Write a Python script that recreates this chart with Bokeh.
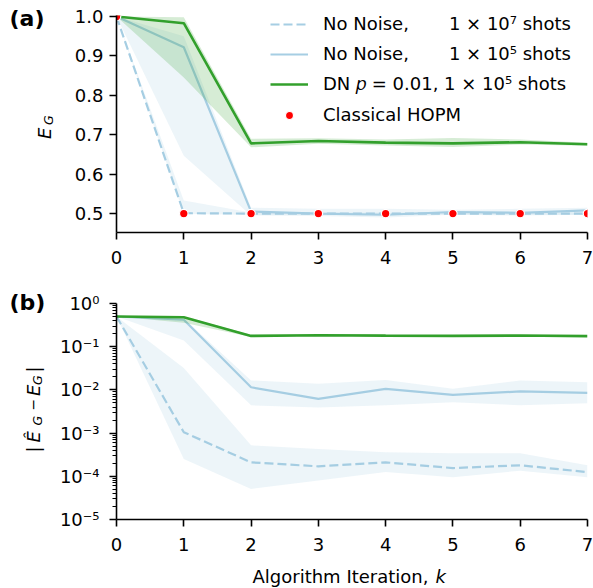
import math
from bokeh.plotting import figure
from bokeh.layouts import column, row
from bokeh.core.properties import value
from bokeh.models import (FixedTicker, NumeralTickFormatter, Legend,
                          LegendItem, Range1d)
from bokeh.embed import file_html
from bokeh.resources import INLINE

# ---------------- data ----------------
k = [0, 1, 2, 3, 4, 5, 6, 7]

# panel (a): E_G
eg_1e7 = [1.0, 0.501, 0.500, 0.500, 0.500, 0.500, 0.500, 0.500]
eg_1e7_lo = [1.0, 0.499, 0.497, 0.497, 0.496, 0.497, 0.497, 0.497]
eg_1e7_hi = [1.0, 0.533, 0.503, 0.503, 0.503, 0.503, 0.503, 0.503]

eg_1e5 = [1.0, 0.922, 0.505, 0.500, 0.497, 0.504, 0.502, 0.508]
eg_1e5_lo = [1.0, 0.647, 0.495, 0.494, 0.490, 0.497, 0.495, 0.497]
eg_1e5_hi = [1.0, 0.950, 0.515, 0.512, 0.512, 0.510, 0.512, 0.515]

eg_dn = [1.0, 0.983, 0.678, 0.684, 0.680, 0.678, 0.681, 0.676]
eg_dn_lo = [1.0, 0.845, 0.668, 0.677, 0.673, 0.669, 0.675, 0.672]
eg_dn_hi = [1.0, 0.998, 0.690, 0.691, 0.688, 0.692, 0.688, 0.680]

hopm = [1.0, 0.5, 0.5, 0.5, 0.5, 0.5, 0.5, 0.5]

# panel (b): |E_hat - E_G|
err_1e7 = [0.5, 1.05e-3, 2.1e-4, 1.7e-4, 2.1e-4, 1.55e-4, 1.8e-4, 1.25e-4]
err_1e7_lo = [0.5, 2.5e-4, 5.1e-5, 8.0e-5, 1.25e-4, 9.5e-5, 1.35e-4, 9.5e-5]
err_1e7_hi = [0.5, 3.2e-2, 5.2e-4, 4.3e-4, 3.6e-4, 3.4e-4, 3.4e-4, 1.8e-4]

err_1e5 = [0.5, 0.42, 0.0115, 0.0062, 0.0106, 0.0077, 0.0092, 0.0085]
err_1e5_lo = [0.5, 0.14, 0.0044, 0.0039, 0.0044, 0.0052, 0.0044, 0.0049]
err_1e5_hi = [0.5, 0.45, 0.0166, 0.0138, 0.0170, 0.0106, 0.0166, 0.0150]

err_dn = [0.5, 0.48, 0.178, 0.184, 0.180, 0.178, 0.181, 0.176]
err_dn_lo = [0.5, 0.36, 0.168, 0.178, 0.174, 0.170, 0.175, 0.172]
err_dn_hi = [0.5, 0.50, 0.190, 0.190, 0.186, 0.186, 0.186, 0.180]

NB = "\u00a0"
legend_labels = [
    "No Noise," + NB * 7 + "1 × 10⁷ shots",
    "No Noise," + NB * 7 + "1 × 10⁵ shots",
    "DN 𝑝 = 0.01, 1 × 10⁵ shots",
    "Classical HOPM",
]
x_ticks = [0, 1, 2, 3, 4, 5, 6, 7]
ya_ticks = [0.5, 0.6, 0.7, 0.8, 0.9, 1.0]
yb_ticks = [1e-5, 1e-4, 1e-3, 1e-2, 1e-1, 1.0]
yb_tick_labels = ["10⁻⁵", "10⁻⁴", "10⁻³", "10⁻²", "10⁻¹", "10⁰"]
xlabel_main = "Algorithm Iteration,"
xlabel_var = "k"

# ---------------- style ----------------
BLUE = "#a6cee3"
GREEN = "#33a02c"
RED = "#ff0000"
FONT = "DejaVu Sans"
FS = "18px"
TOT_W, TOT_H = 593, 588
GUT = 56              # width of the left text strip
PW = TOT_W - GUT      # width of a panel figure
HA, HB = 280, 276
HX = TOT_H - HA - HB  # x-label strip
BL = 0.3              # baseline shift of text glyphs, in em


def style(p):
    for ax in (p.xaxis[0], p.yaxis[0]):
        ax.axis_line_width = 1.6
        ax.axis_line_color = "black"
        ax.major_tick_line_width = 1.6
        ax.major_tick_line_color = "black"
        ax.major_tick_out = 7
        ax.major_tick_in = 0
        ax.minor_tick_line_color = None
        ax.major_label_text_font = FONT
        ax.major_label_text_font_size = FS
        ax.major_label_text_color = "black"
        ax.major_label_standoff = 6
    p.xaxis[0].major_label_standoff = 11
    p.xaxis[0].ticker = FixedTicker(ticks=x_ticks)
    p.xgrid.visible = False
    p.ygrid.visible = False
    p.outline_line_color = None
    p.background_fill_color = "white"
    p.border_fill_color = "white"


def strip(w, h, xr, yr, bl=0, br=0):
    g = figure(width=w, height=h, x_range=xr, y_range=yr,
               output_backend="svg", toolbar_location=None,
               x_axis_location=None, y_axis_location=None,
               min_border_left=bl, min_border_right=br, min_border_top=0,
               min_border_bottom=0)
    g.grid.visible = False
    g.outline_line_color = None
    g.background_fill_color = "white"
    g.border_fill_color = "white"
    return g


def txt(p, x, y, s, size=18, st="normal"):
    # horizontal text, (x, y) = start of the alphabetic baseline
    p.text(x=[x], y=[y - BL * size], text=[s], text_align="left",
           text_baseline="alphabetic", text_font=value(FONT),
           text_font_size=value(f"{size}px"), text_font_style=st,
           text_color="black")


def vtext(p, pieces):
    # text rotated to read bottom-to-top; (x, y) = baseline x, start y
    for s, size, st, x, y in pieces:
        p.text(x=[x - BL * size], y=[y], text=[s], angle=math.pi / 2,
               text_align="left", text_baseline="alphabetic",
               text_font=value(FONT), text_font_size=value(f"{size}px"),
               text_font_style=st, text_color="black")


# ---------------- panel (a) ----------------
pa = figure(width=PW, height=HA, x_range=Range1d(0, 7),
            y_range=Range1d(0.452, 1.0025), output_backend="svg",
            toolbar_location=None, min_border_left=116 - GUT,
            min_border_right=6, min_border_top=15, min_border_bottom=48)
style(pa)
pa.yaxis[0].ticker = FixedTicker(ticks=ya_ticks)
pa.yaxis[0].formatter = NumeralTickFormatter(format="0.0")

r1 = pa.line(k, eg_1e7, line_color=BLUE, line_width=2.2, line_dash="9 4")
pa.varea(x=k, y1=eg_1e7_lo, y2=eg_1e7_hi, fill_color=BLUE, fill_alpha=0.2)
r2 = pa.line(k, eg_1e5, line_color=BLUE, line_width=2.2)
pa.varea(x=k, y1=eg_1e5_lo, y2=eg_1e5_hi, fill_color=BLUE, fill_alpha=0.2)
r3 = pa.line(k, eg_dn, line_color=GREEN, line_width=2.6)
pa.varea(x=k, y1=eg_dn_lo, y2=eg_dn_hi, fill_color=GREEN, fill_alpha=0.2)
r4 = pa.scatter(k, hopm, size=8.5, fill_color=RED, line_color="white",
                line_width=1.2)

legend = Legend(items=[LegendItem(label=legend_labels[0], renderers=[r1]),
                       LegendItem(label=legend_labels[1], renderers=[r2]),
                       LegendItem(label=legend_labels[2], renderers=[r3]),
                       LegendItem(label=legend_labels[3], renderers=[r4])],
                location=(154, 107), border_line_color=None,
                background_fill_alpha=0.0, label_text_font=FONT,
                label_text_font_size=FS, label_text_color="black",
                glyph_width=38, glyph_height=20, label_height=20,
                label_standoff=15, spacing=9, padding=0, margin=0)
pa.add_layout(legend)

# ---------------- panel (b) ----------------
pb = figure(width=PW, height=HB, x_range=Range1d(0, 7),
            y_range=Range1d(1e-5, 1.0), y_axis_type="log",
            output_backend="svg", toolbar_location=None,
            min_border_left=116 - GUT, min_border_right=6, min_border_top=23,
            min_border_bottom=37)
style(pb)
pb.yaxis[0].major_label_standoff = 10
minor = [m * 10.0 ** e for e in range(-5, 0) for m in range(2, 10)]
pb.yaxis[0].ticker = FixedTicker(ticks=yb_ticks, minor_ticks=minor)
pb.yaxis[0].major_label_overrides = {t: s for t, s in zip(yb_ticks, yb_tick_labels)}
pb.yaxis[0].minor_tick_line_color = "black"
pb.yaxis[0].minor_tick_line_width = 1.2
pb.yaxis[0].minor_tick_out = 4
pb.yaxis[0].minor_tick_in = 0

pb.line(k, err_1e7, line_color=BLUE, line_width=2.2, line_dash="9 4")
pb.varea(x=k, y1=err_1e7_lo, y2=err_1e7_hi, fill_color=BLUE, fill_alpha=0.2)
pb.line(k, err_1e5, line_color=BLUE, line_width=2.2)
pb.varea(x=k, y1=err_1e5_lo, y2=err_1e5_hi, fill_color=BLUE, fill_alpha=0.2)
pb.line(k, err_dn, line_color=GREEN, line_width=2.6)
pb.varea(x=k, y1=err_dn_lo, y2=err_dn_hi, fill_color=GREEN, fill_alpha=0.2)

# ---------------- left text strip (page pixel coordinates) ----------------
gut = strip(GUT, TOT_H, Range1d(0, GUT), Range1d(TOT_H, 0))
txt(gut, 9, 24.5, "(a)", size=22, st="bold")
vtext(gut, [
    ("E", 18, "italic", 49, 138.5),
    ("G", 12.6, "italic", 52, 124.5),
])
txt(gut, 9, 309, "(b)", size=22, st="bold")
vtext(gut, [
    ("|", 18, "normal", 38, 452),
    ("Ê", 18, "italic", 38, 442),
    ("G", 12.6, "italic", 41, 425),
    ("−", 14, "normal", 36.7, 410),
    ("E", 18, "italic", 38, 395.5),
    ("G", 12.6, "italic", 41, 384.5),
    ("|", 18, "normal", 38, 372),
])

# ---------------- bottom x-label strip ----------------
y0 = HA + HB
px = strip(PW, HX, Range1d(116, 587), Range1d(TOT_H, y0), bl=116 - GUT, br=6)
txt(px, 252, 581, xlabel_main)
txt(px, 435, 581, xlabel_var, st="italic")

layout = row(gut, column(pa, pb, px, spacing=0), spacing=0)
open("out.html", "w").write(file_html(layout, INLINE))
